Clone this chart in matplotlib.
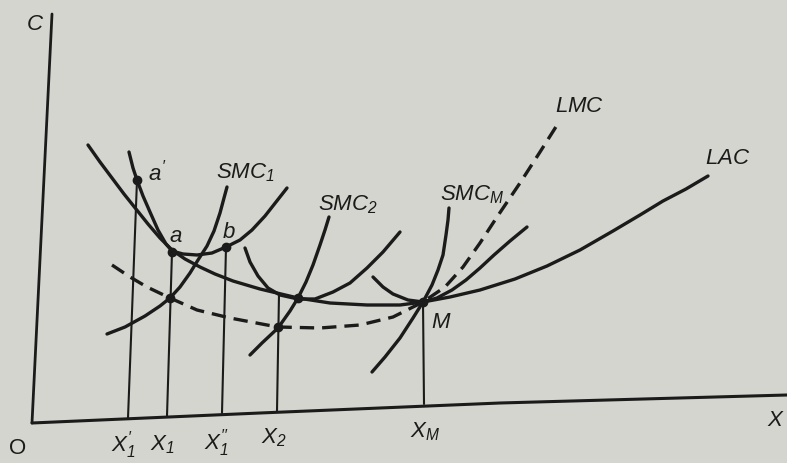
import matplotlib as mpl
mpl.use('Agg')
import matplotlib.pyplot as plt

# Diagram, in picture pixels (x right, y down).
# The scan is slightly rotated, so the axes are not exactly square.

yAxis = [(52, 14), (32, 423)]
xAxis = [(32, 423), (260, 413), (500, 403), (787, 395)]

LAC = [(88, 145), (100, 162), (112, 178), (124, 194), (136, 209), (148, 224),
       (160, 238), (172, 250), (185, 259), (200, 267), (215, 274), (233, 281),
       (260, 289), (298, 298), (330, 303), (367, 305), (400, 305), (423, 302),
       (450, 297), (480, 290), (515, 279), (547, 266), (580, 250), (613, 231),
       (640, 215), (663, 201), (686, 189), (708, 176)]

SAC1 = [(129, 152), (133, 168), (137, 180), (143, 196), (150, 212), (158, 230),
        (166, 244), (172, 251), (183, 254), (197, 255), (212, 253), (226, 247),
        (240, 240), (252, 230), (265, 216), (276, 202), (287, 188)]
SMC1 = [(107, 334), (125, 327), (145, 316), (160, 306), (170, 298), (180, 287),
        (190, 273), (198, 260), (207, 246), (214, 231), (220, 213), (224, 198),
        (227, 187)]

SAC2 = [(245, 248), (250, 262), (258, 276), (268, 288), (280, 295), (298, 299),
        (315, 299), (333, 292), (350, 283), (367, 268), (383, 252), (400, 232)]
SMC2 = [(250, 355), (262, 343), (278, 328), (290, 311), (298, 298), (306, 282),
        (313, 265), (320, 245), (325, 230), (329, 217)]

SACM = [(373, 277), (383, 287), (393, 294), (408, 300), (423, 302), (437, 298),
        (452, 290), (466, 280), (480, 268), (494, 255), (510, 241), (527, 227)]
SMCM = [(372, 372), (385, 357), (400, 338), (413, 318), (423, 302), (432, 285),
        (438, 270), (443, 255), (446, 235), (448, 220), (449, 208)]

LMC = [(112, 265), (130, 277), (147, 287), (170, 298), (197, 310), (230, 318),
       (267, 325), (278, 327), (320, 328), (360, 325), (393, 317), (423, 302),
       (445, 287), (463, 267), (480, 243), (497, 217), (520, 183), (540, 152),
       (559, 122)]

# drop lines: (bottom on the axis, top on the curve)
dropLines = [[(128, 418), (137, 180)],
             [(167, 416), (172, 252)],
             [(222, 413), (226, 247)],
             [(277, 411), (279, 294)],
             [(424, 404), (423, 302)]]

dots = [(137, 180), (172, 252), (226, 247), (170, 298), (298, 298),
        (278, 327), (423, 302)]

# labels and where they sit
curveLabels = [r'$a^{\prime}$', r'$a$', r'$b$', r'$SMC_1$', r'$SMC_2$',
               r'$SMC_M$', r'$LMC$', r'$LAC$', r'$M$']
curveLabelPos = [(157, 173), (176, 237), (229, 232), (245, 173), (348, 205),
                 (472, 195), (580, 107), (728, 158), (441, 323)]

xTickLabels = [r'$X_1^{\prime}$', r'$X_1$', r'$X_1^{\prime\prime}$', r'$X_2$', r'$X_M$']
xTickPos = [(123, 445), (162, 445), (216, 443), (274, 438), (425, 432)]

plt.rcParams['mathtext.fontset'] = 'custom'
plt.rcParams['mathtext.it'] = 'Liberation Sans:italic'
plt.rcParams['mathtext.rm'] = 'Liberation Sans:italic'
plt.rcParams['font.family'] = 'Liberation Sans'

ink = '#1b1b1b'
paper = '#d5d5cf'

fig = plt.figure(figsize=(7.87, 4.63), dpi=100)
fig.patch.set_facecolor(paper)
ax = fig.add_axes([0, 0, 1, 1])
ax.set_facecolor(paper)
ax.set_xlim(0, 787)
ax.set_ylim(463, 0)
ax.axis('off')

def draw(pts, **kw):
    xs = [p[0] for p in pts]
    ys = [p[1] for p in pts]
    ax.plot(xs, ys, color=ink, solid_capstyle='round', solid_joinstyle='round', **kw)

draw(yAxis, linewidth=2.0)
draw(xAxis, linewidth=2.2)

for line in dropLines:
    draw(line, linewidth=1.5)

for curve in [LAC, SAC1, SMC1, SAC2, SMC2, SACM, SMCM]:
    draw(curve, linewidth=2.4)

draw(LMC, linewidth=2.4, linestyle=(0, (4.3, 2.4)))

ax.plot([d[0] for d in dots], [d[1] for d in dots], 'o', color=ink,
        markersize=6, linestyle='none')

for txt, (x, y) in zip(curveLabels, curveLabelPos):
    ax.text(x, y, txt, fontsize=16, color=ink, ha='center', va='center')

for txt, (x, y) in zip(xTickLabels, xTickPos):
    ax.text(x, y, txt, fontsize=16, color=ink, ha='center', va='center')

ax.text(35, 24, r'$C$', fontsize=16, color=ink, ha='center', va='center')
ax.text(18, 448, 'O', fontsize=16, color=ink, ha='center', va='center')
ax.text(776, 420, r'$X$', fontsize=16, color=ink, ha='center', va='center')

fig.savefig('out.png', dpi=100, facecolor=paper)
